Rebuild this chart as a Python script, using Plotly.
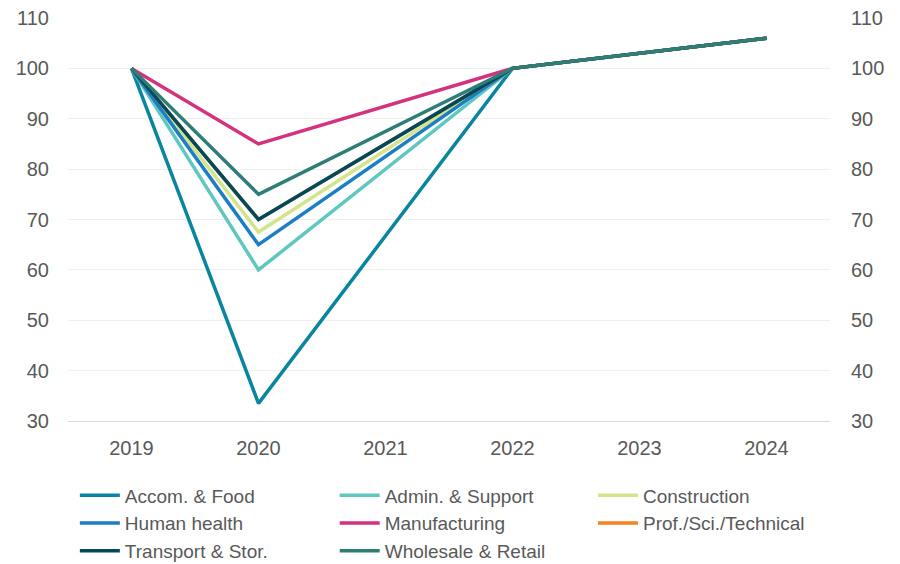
import plotly.graph_objects as go

years = ["2019", "2020", "2021", "2022", "2023", "2024"]
series_names = ["Accom. & Food", "Admin. & Support", "Construction", "Human health",
                "Manufacturing", "Prof./Sci./Technical", "Transport & Stor.", "Wholesale & Retail"]
accom = [100, 33.5, None, 100, 103, 106]
admin = [100, 60, None, 100, 103, 106]
construction = [100, 67.5, None, 100, 103, 106]
human_health = [100, 65, None, 100, 103, 106]
manufacturing = [100, 85, None, 100, 103, 106]
prof_sci = [100, 70, None, 100, 103, 106]
transport = [100, 70, None, 100, 103, 106]
wholesale = [100, 75, None, 100, 103, 106]
values = [accom, admin, construction, human_health, manufacturing, prof_sci, transport, wholesale]
colors = ["#0a859f", "#5ec7bf", "#d3e48b", "#1b7ec6", "#d4327f", "#f5821f", "#004a5c", "#2e7e77"]
y_ticks = [30, 40, 50, 60, 70, 80, 90, 100, 110]

legend_ids = ["legend", "legend2", "legend3"]

fig = go.Figure()
for i, (name, vals, col) in enumerate(zip(series_names, values, colors)):
    fig.add_trace(go.Scatter(x=years, y=vals, name=name, mode="lines", connectgaps=True,
                             line=dict(color=col, width=3.5), legend=legend_ids[i % 3]))
# invisible trace to drive right axis
fig.add_trace(go.Scatter(x=years, y=[None]*6, yaxis="y2", showlegend=False, hoverinfo="skip"))

font_col = "#595959"
fs = 20
lfs = 19
leg_y = -0.1376
def leg(x):
    return dict(orientation="v", x=x, y=leg_y, xanchor="left", yanchor="top",
                itemwidth=40, font=dict(size=lfs, color=font_col), tracegroupgap=0,
                bgcolor="rgba(0,0,0,0)")

fig.update_layout(
    width=900, height=564,
    margin=dict(l=68, r=70, t=18, b=143, autoexpand=False),
    plot_bgcolor="white", paper_bgcolor="white",
    font=dict(family="Liberation Sans, Arial", size=fs, color=font_col),
    xaxis=dict(type="category", categoryarray=years, range=[-0.5, 5.5], showgrid=False,
               showline=True, linecolor="#d9d9d9", linewidth=1, ticks="",
               ticklabelstandoff=9, tickfont=dict(size=fs, color=font_col)),
    yaxis=dict(range=[30, 110], tickvals=y_ticks, showgrid=True, gridcolor="#efefef",
               zeroline=False, showline=False, ticks="", ticklabelstandoff=18,
               tickfont=dict(size=fs, color=font_col)),
    yaxis2=dict(range=[30, 110], tickvals=y_ticks, overlaying="y", side="right", showgrid=False,
                zeroline=False, showline=False, ticks="", ticklabelstandoff=20,
                tickfont=dict(size=fs, color=font_col)),
    legend=leg(0.009),
    legend2=leg(0.350),
    legend3=leg(0.689),
    showlegend=True,
)
fig.write_html("out.html")
